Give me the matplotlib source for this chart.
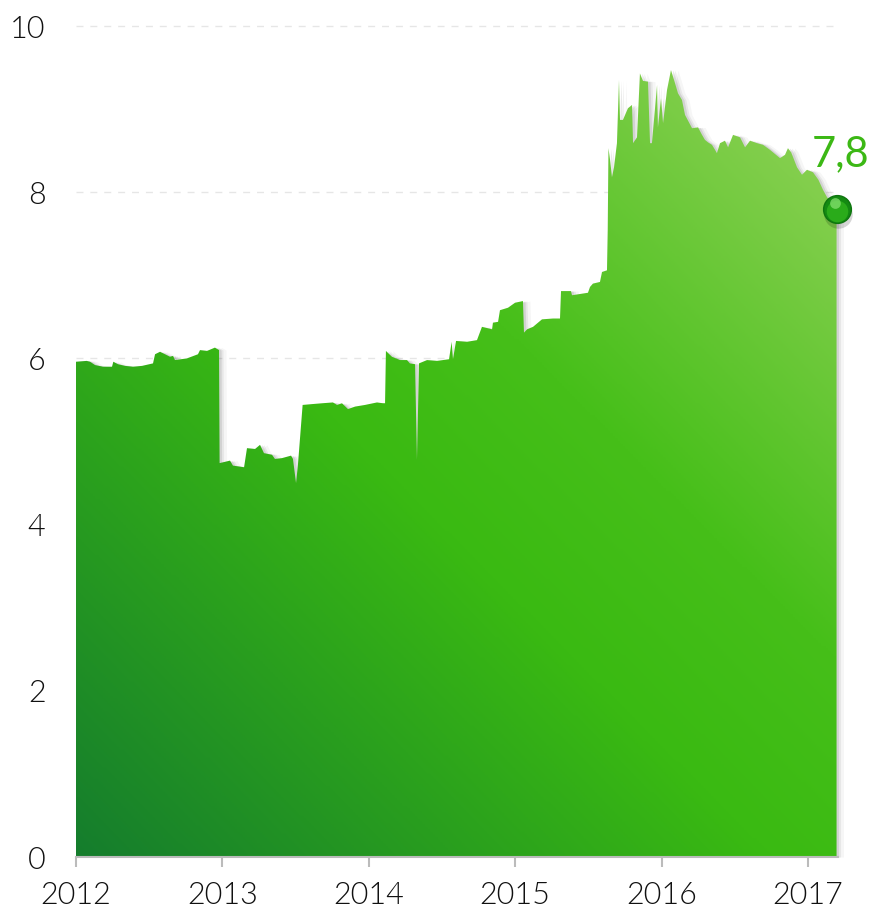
import matplotlib
matplotlib.use("Agg")
import matplotlib.pyplot as plt
import numpy as np
from matplotlib.colors import LinearSegmentedColormap
from matplotlib import transforms

# data (decimal year, value)
dates = [
    2012.000, 2012.073, 2012.096, 2012.130, 2012.184, 2012.246, 2012.255, 2012.287,
    2012.335, 2012.389, 2012.451, 2012.526, 2012.540, 2012.574, 2012.608, 2012.642,
    2012.663, 2012.676, 2012.758, 2012.833, 2012.847, 2012.895, 2012.949, 2012.977,
    2012.981, 2013.052, 2013.072, 2013.148, 2013.168, 2013.223, 2013.257, 2013.284,
    2013.339, 2013.359, 2013.407, 2013.469, 2013.482, 2013.503, 2013.516, 2013.548,
    2013.612, 2013.680, 2013.755, 2013.783, 2013.817, 2013.858, 2013.906, 2013.974,
    2014.056, 2014.097, 2014.111, 2014.117, 2014.158, 2014.213, 2014.261, 2014.281,
    2014.316, 2014.329, 2014.343, 2014.398, 2014.466, 2014.548, 2014.566, 2014.575,
    2014.596, 2014.671, 2014.739, 2014.773, 2014.842, 2014.848, 2014.883, 2014.896,
    2014.951, 2014.999, 2015.053, 2015.060, 2015.081, 2015.122, 2015.183, 2015.258,
    2015.306, 2015.313, 2015.381, 2015.388, 2015.497, 2015.511, 2015.531, 2015.579,
    2015.593, 2015.627, 2015.632, 2015.637, 2015.648, 2015.661, 2015.675, 2015.695,
    2015.709, 2015.716, 2015.736, 2015.770, 2015.798, 2015.805, 2015.832, 2015.852,
    2015.873, 2015.907, 2015.921, 2015.934, 2015.969, 2015.975, 2015.996, 2016.010,
    2016.037, 2016.064, 2016.092, 2016.112, 2016.139, 2016.160, 2016.208, 2016.249,
    2016.276, 2016.296, 2016.317, 2016.344, 2016.365, 2016.378, 2016.399, 2016.433,
    2016.454, 2016.488, 2016.536, 2016.570, 2016.604, 2016.652, 2016.693, 2016.740,
    2016.809, 2016.843, 2016.863, 2016.885, 2016.925, 2016.959, 2016.993, 2017.034,
    2017.071, 2017.102, 2017.130, 2017.195,
]
values = [
    5.96, 5.97, 5.96, 5.92, 5.90, 5.90, 5.96, 5.93,
    5.91, 5.90, 5.91, 5.94, 6.05, 6.08, 6.05, 6.02,
    6.03, 5.98, 6.00, 6.05, 6.10, 6.09, 6.13, 6.10,
    4.74, 4.77, 4.71, 4.69, 4.92, 4.91, 4.96, 4.86,
    4.84, 4.79, 4.80, 4.83, 4.79, 4.50, 4.72, 5.44,
    5.45, 5.46, 5.47, 5.44, 5.46, 5.39, 5.42, 5.44,
    5.47, 5.46, 5.46, 6.09, 6.02, 5.98, 5.98, 5.94,
    5.93, 4.78, 5.94, 5.98, 5.97, 5.99, 6.20, 5.99,
    6.21, 6.20, 6.22, 6.38, 6.35, 6.43, 6.44, 6.58,
    6.61, 6.67, 6.69, 6.31, 6.35, 6.38, 6.47, 6.48,
    6.48, 6.81, 6.81, 6.76, 6.79, 6.86, 6.90, 6.92,
    7.04, 7.06, 7.55, 8.53, 8.39, 8.18, 8.30, 8.59,
    9.35, 8.87, 8.87, 9.01, 9.05, 8.59, 8.66, 9.43,
    9.34, 9.33, 8.59, 8.59, 9.29, 8.78, 9.13, 8.83,
    9.23, 9.47, 9.31, 9.19, 9.11, 8.93, 8.77, 8.78,
    8.69, 8.63, 8.60, 8.57, 8.51, 8.47, 8.59, 8.62,
    8.54, 8.69, 8.66, 8.54, 8.62, 8.59, 8.57, 8.51,
    8.41, 8.45, 8.53, 8.48, 8.30, 8.21, 8.27, 8.24,
    8.15, 8.03, 7.94, 7.80,
]
years = [2012, 2013, 2014, 2015, 2016, 2017]
yticks = [0, 2, 4, 6, 8, 10]
last_label = "7,8"

x = np.array(dates)
y = np.array(values)

fig = plt.figure(figsize=(8.77, 9.13), dpi=100)
ax = fig.add_axes([76 / 877, 56 / 913, 762 / 877, 856 / 913])
ax.set_xlim(2012, 2012 + 762 / 146.4)
ax.set_ylim(0, 856 / 83.1)

# soft shadow to the right of the area
for dx, a in [(2, 0.09), (4, 0.06), (7, 0.035)]:
    off = transforms.offset_copy(ax.transData, fig=fig, x=dx * 0.72, y=0, units="points")
    ax.fill_between(x, 0, y, color="#000000", alpha=a, lw=0, transform=off,
                    zorder=1, clip_on=False)

# area with diagonal gradient
poly = ax.fill_between(x, 0, y, color="none", lw=0, zorder=2)
cmap = LinearSegmentedColormap.from_list(
    "grn", [(0.0, "#157d2d"), (0.45, "#3aba12"), (0.62, "#46bf19"), (1.0, "#95d35c")])
W, H = 761.0, 787.0
u = np.linspace(0, 1, 300)
v = np.linspace(0, 1, 300)
U, V = np.meshgrid(u, v)
T = (U * W + V * H) / (W + H)
img = ax.imshow(T, cmap=cmap, origin="lower", aspect="auto",
                extent=[x[0], x[-1], 0, y.max()], zorder=2, interpolation="bilinear")
img.set_clip_path(poly.get_paths()[0], transform=ax.transData)

# grid
for t in yticks[1:]:
    ax.axhline(t, color="#e6e6e6", lw=1, ls=(0, (5, 5)), zorder=0)

# end marker
ax.scatter([x[-1] + 0.012], [y[-1] - 0.06], s=420, color="#000000", alpha=0.16, lw=0,
           zorder=5, clip_on=False)
ax.scatter([x[-1]], [y[-1]], s=400, color="#148a12", edgecolor="#0e750f", lw=1,
           zorder=6, clip_on=False)
ax.scatter([x[-1]], [y[-1] - 0.025], s=240, color="#2aab1a", lw=0, zorder=7, clip_on=False)
ax.scatter([x[-1] - 0.008], [y[-1] + 0.07], s=60, color="#7fdc6a", lw=0, zorder=8,
           alpha=0.8, clip_on=False)
ax.annotate(last_label, (x[-1], y[-1]), xytext=(3, 31), textcoords="offset points",
            ha="center", va="baseline", fontsize=30, color="#3cb815",
            family=["Lato", "DejaVu Sans"], annotation_clip=False)

# axes styling
for s in ["top", "right", "left"]:
    ax.spines[s].set_visible(False)
ax.spines["bottom"].set_color("#bbbbbb")
ax.spines["bottom"].set_linewidth(1.5)
ax.spines["bottom"].set_zorder(4)
ax.set_xticks(years)
ax.set_xticklabels([str(yr) for yr in years])
ax.set_yticks(yticks)
ax.set_yticklabels([str(t) for t in yticks])
ax.tick_params(axis="x", length=7, width=1.5, color="#bbbbbb", pad=10, labelsize=22,
               labelcolor="#111111")
ax.tick_params(axis="y", length=0, pad=22, labelsize=22, labelcolor="#111111")
for lab in ax.get_xticklabels() + ax.get_yticklabels():
    lab.set_family(["Lato", "DejaVu Sans"])
    lab.set_fontweight(300)

fig.savefig("out.png", dpi=100)
